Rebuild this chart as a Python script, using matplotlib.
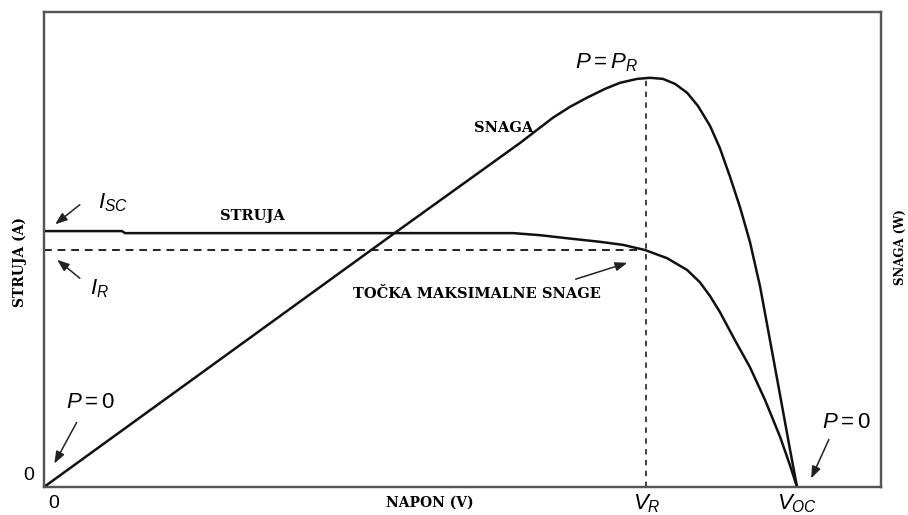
import matplotlib
matplotlib.use("Agg")
import matplotlib.pyplot as plt

plt.rcParams['mathtext.fontset'] = 'custom'
plt.rcParams['mathtext.it'] = 'Liberation Sans:italic'
plt.rcParams['mathtext.rm'] = 'Liberation Sans'
plt.rcParams['font.family'] = ['Liberation Sans', 'DejaVu Sans']

# ---- data ----
V_OC = 20.0
V_R = 16.0
I_SC = 5.0
I_R = 4.63
P_R = 74.0
V_MAX = 22.23
I_MAX = 9.28
P_MAX = 85.9

current_v = [0.0, 2.07, 2.15, 6.8, 12.46, 13.17, 13.89, 14.77, 15.38, 15.96, 16.55,
             17.08, 17.42, 17.69, 17.95, 18.35, 18.75, 19.15, 19.55, 19.81, 20.0]
current_i = [5.0, 5.0, 4.96, 4.96, 4.96, 4.92, 4.86, 4.79, 4.73, 4.63, 4.47,
             4.24, 4.00, 3.73, 3.42, 2.87, 2.34, 1.70, 0.98, 0.43, 0.0]

power_v = [0.0, 9.32, 12.64, 13.52, 13.97, 14.42, 14.90, 15.30, 15.75, 16.10, 16.44,
           16.76, 17.08, 17.37, 17.69, 17.95, 18.22, 18.49, 18.75, 19.02, 19.28,
           19.55, 19.81, 20.0]
power_p = [0.0, 45.96, 62.2, 66.8, 68.75, 70.4, 72.0, 73.1, 73.8, 74.0, 73.8,
           72.9, 71.3, 68.9, 65.3, 61.3, 56.1, 50.5, 44.3, 36.2, 26.6,
           16.6, 6.9, 0.0]

fig = plt.figure(figsize=(9.08, 5.15), dpi=100)
ax = fig.add_axes([44/908, 28/515, 837/908, 475/515])
ax2 = ax.twinx()

ax.plot(current_v, current_i, color='#111111', lw=1.8, solid_capstyle='round',
        solid_joinstyle='round')
ax2.plot(power_v, power_p, color='#111111', lw=1.8, solid_capstyle='round',
         solid_joinstyle='round')

# dashed guides
ax.plot([0, V_R], [I_R, I_R], color='#222222', lw=1.4, ls=(0, (4, 3)))
ax2.plot([V_R, V_R], [0, P_R], color='#333333', lw=1.3, ls=(0, (3, 3)))

ax.set_xlim(0, V_MAX)
ax.set_ylim(0, I_MAX)
ax2.set_ylim(0, P_MAX)

for a in (ax, ax2):
    for s in a.spines.values():
        s.set_color('#555555')
        s.set_linewidth(1.6)
    a.set_yticks([])
ax.set_xticks([V_R, V_OC])
ax.set_xticklabels([r'$V_R$', r'$V_{OC}$'], fontsize=16)
ax.tick_params(axis='x', length=0, pad=4)

serif = ['DejaVu Serif']

def ftext(x, y, s, **kw):
    fig.text(x/908, 1 - y/515, s, ha='center', va='center', **kw)

ftext(54, 503, '0', fontsize=14)
ftext(29, 475, '0', fontsize=14)
ftext(20, 262, 'STRUJA (A)', rotation=90, family=serif, fontweight='bold', fontsize=10)
ftext(900, 247, 'SNAGA (W)', rotation=90, family=serif, fontweight='bold', fontsize=8.5)
ftext(430, 503, 'NAPON (V)', family=serif, fontweight='bold', fontsize=10)

ftext(252, 216, 'STRUJA', family=serif, fontweight='bold', fontsize=10.5)
ftext(504, 128, 'SNAGA', family=serif, fontweight='bold', fontsize=10.5)
ftext(477, 294, 'TOČKA MAKSIMALNE SNAGE', family=serif, fontweight='bold', fontsize=10.5)

ftext(113, 203, r'$I_{SC}$', fontsize=16)
ftext(99, 289, r'$I_R$', fontsize=16)
ftext(606, 63, r'$P = P_R$', fontsize=16)
ftext(90, 403, r'$P = 0$', fontsize=16)
ftext(846, 423, r'$P = 0$', fontsize=16)

def arrow(x0, y0, x1, y1):
    fig.add_artist(matplotlib.patches.FancyArrowPatch(
        (x0/908, 1 - y0/515), (x1/908, 1 - y1/515), transform=fig.transFigure,
        arrowstyle='-|>,head_length=0.8,head_width=0.3', mutation_scale=9,
        lw=1.1, color='#222222'))

arrow(82, 203, 53, 226)
arrow(82, 280, 55, 258)
arrow(78, 420, 53, 466)
arrow(830, 437, 810, 481)
arrow(573, 280, 630, 262)

fig.savefig('out.png', dpi=100)
